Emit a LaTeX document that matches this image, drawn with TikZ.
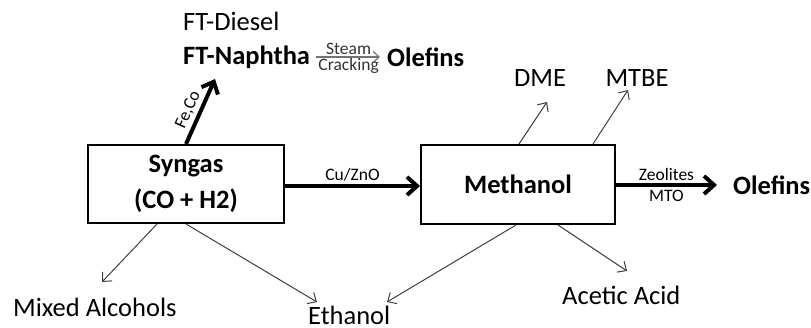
\documentclass[tikz,border=0pt]{standalone}
\usepackage{fontspec}
\setmainfont{Carlito}
\usetikzlibrary{arrows.meta,calc}
\begin{document}
\begin{tikzpicture}[x=1pt,y=-1pt,
  box/.style={draw, line width=2pt, minimum width=196pt, minimum height=78pt, inner sep=0pt,
    font=\fontsize{26.5}{36}\selectfont\bfseries, align=center},
  big/.style={font=\fontsize{26.5}{30}\selectfont, inner sep=0pt},
  bigb/.style={font=\fontsize{26.5}{30}\selectfont\bfseries, inner sep=0pt},
  small/.style={font=\fontsize{17.5}{20}\selectfont, inner sep=0pt},
  thinarr/.style={draw=black!75, line width=1pt, -{Straight Barb[length=7pt,width=13pt]}},
  thickarr/.style={line width=4pt, -{Straight Barb[length=10pt,width=18pt]}},
  grayarr/.style={draw=black!55, line width=1.2pt, -{Straight Barb[length=6pt,width=11pt]}}
]
\useasboundingbox (0,0) rectangle (811,328);

% boxes
\node[box] (syn) at (186,184) {Syngas\\(CO + H2)};
\node[box, minimum width=194pt, minimum height=79pt] (met) at (518,184.5) {Methanol};

% top products
\node[big, anchor=west] (diesel) at (183,21) {FT-Diesel};
\node[bigb, anchor=west] (naph) at (183,57) {FT-Naphtha};
\node[bigb, anchor=west] (olef1) at (387,57) {Olefins};
\draw[grayarr, shorten <=6pt, shorten >=7pt] (naph.east) -- (olef1.west)
  node[midway, small, above=2pt, text=black!80] (steam) {Steam}
  node[midway, small, below=1pt, text=black!80] (crack) {Cracking};

\node[big] (dme) at (540,78) {DME};
\node[big] (mtbe) at (637,78) {MTBE};
\node[bigb, anchor=west] (olef2) at (733,185) {Olefins};

% bottom products
\node[big, anchor=west] (mixed) at (13,307) {Mixed Alcohols};
\node[big, anchor=west] (eth) at (308,315) {Ethanol};
\node[big, anchor=west] (acet) at (562,295) {Acetic Acid};

% arrow tip coordinates
\coordinate (tFe) at (215,79);
\coordinate (tDme) at (547,102);
\coordinate (tMtbe) at (628,90);
\coordinate (tMix) at (102,282);
\coordinate (tEth1) at (317,302);
\coordinate (tEth2) at (387,302);
\coordinate (tAc) at (627,271);

% thick arrows
\draw[thickarr] ([xshift=99pt]syn.north west) -- (tFe)
  node[pos=0.45, sloped, above=3pt, small] (feco) {Fe,Co};
\draw[thickarr] (syn.east |- 0,186) -- (met.west |- 0,186)
  node[midway, above=3pt, small] (cu) {Cu/ZnO};
\draw[thickarr] (met.east |- 0,185) -- ([xshift=-16pt]olef2.west)
  node[midway, above=2pt, small] (zeo) {Zeolites}
  node[midway, below=3pt, small] (mto) {MTO};

% thin arrows
\draw[thinarr] ([xshift=99pt]met.north west) -- (tDme);
\draw[thinarr] ([xshift=173pt]met.north west) -- (tMtbe);
\draw[thinarr] ([xshift=70pt]syn.south west) -- (tMix);
\draw[thinarr] ([xshift=99pt]syn.south west) -- (tEth1);
\draw[thinarr] ([xshift=96pt]met.south west) -- (tEth2);
\draw[thinarr] ([xshift=138pt]met.south west) -- (tAc);
\end{tikzpicture}
\end{document}
